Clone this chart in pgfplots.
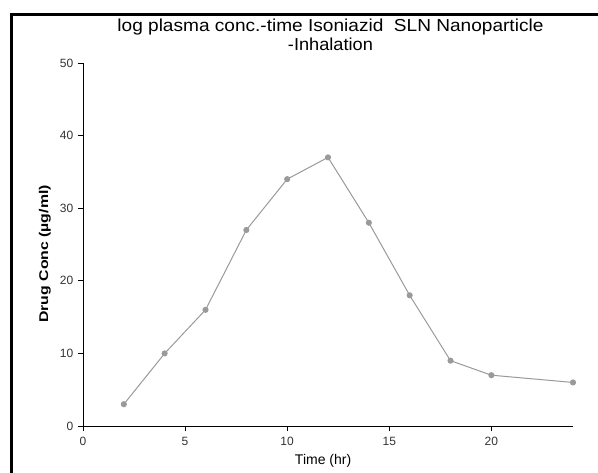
\documentclass[border=0pt]{standalone}
\usepackage{pgfplots}
\pgfplotsset{compat=1.18}
\usepackage{fontspec}
\setmainfont{Liberation Sans}
\definecolor{linegray}{HTML}{9A9A9A}
\definecolor{txtgray}{HTML}{333333}
\begin{document}
\begin{tikzpicture}
\useasboundingbox (-62.25pt,-34.5pt) rectangle (386.25pt,319.5pt);
\draw[line width=2.25pt] (-53.25pt,-40pt) -- (-53.25pt,308.25pt) -- (400pt,308.25pt);
\begin{axis}[
  at={(0,0)}, anchor=south west,
  scale only axis,
  width=367.5pt, height=272.25pt,
  xmin=0, xmax=24, ymin=0, ymax=50,
  axis x line=bottom, axis y line=left,
  axis line style={-, line width=0.6pt, black},
  xtick={0,5,10,15,20}, ytick={0,10,20,30,40,50},
  tick align=outside, major tick length=3.75pt,
  tick style={line width=0.6pt, black},
  /pgf/number format/assume math mode=true,
  tick label style={font=\fontsize{9}{10}\selectfont, text=txtgray},
  xticklabel style={yshift=-1pt},
  xlabel={Time (hr)},
  xlabel style={font=\fontsize{10.5}{12}\selectfont, at={(axis description cs:0.49,0)}, anchor=base, yshift=-29pt},
  ylabel={\scalebox{1.25}[1]{\bfseries Drug Conc (µg/ml)}},
  ylabel style={font=\fontsize{9.5}{11}\selectfont, at={(axis description cs:-0.0776,0.474)}, anchor=center},
  title={\scalebox{1.1}[1]{log plasma conc.-time Isoniazid\ \ SLN Nanoparticle}\\\scalebox{1.05}[1]{-Inhalation}},
  title style={font=\fontsize{13}{14.25}\selectfont, align=center, inner sep=0pt, at={(axis description cs:0.505,1)}, anchor=north, yshift=27.5pt},
  clip=false,
]
\addplot[color=linegray, line width=0.75pt, mark=*, mark size=1.9pt, mark options={fill=linegray, draw=linegray}]
  coordinates {(2,3) (4,10) (6,16) (8,27) (10,34) (12,37) (14,28) (16,18) (18,9) (20,7) (24,6)};
\end{axis}
\end{tikzpicture}
\end{document}
